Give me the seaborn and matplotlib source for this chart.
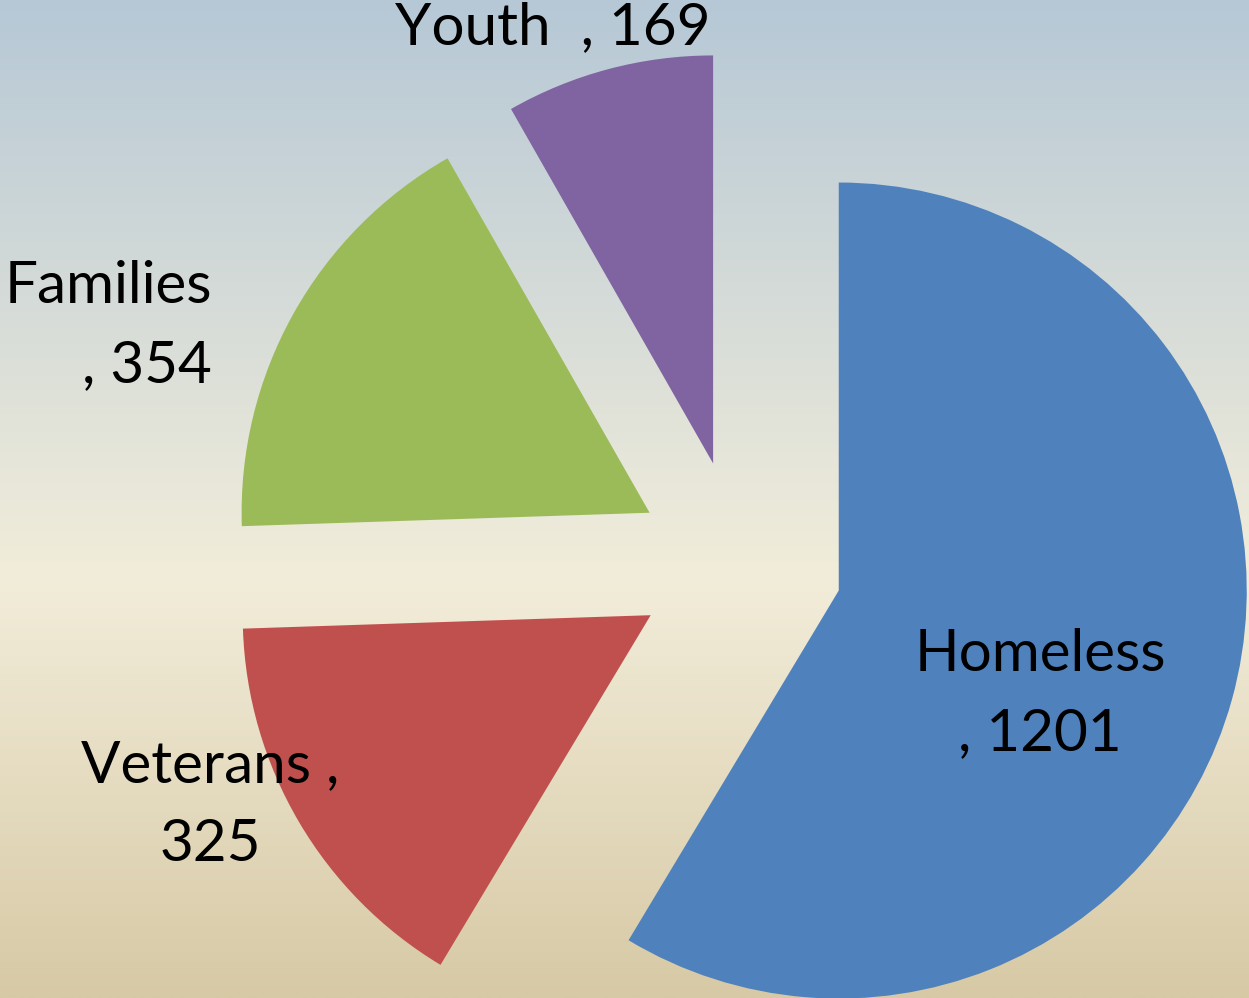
import numpy as np
import matplotlib
matplotlib.use("Agg")
import matplotlib.pyplot as plt
from matplotlib.colors import LinearSegmentedColormap
import seaborn as sns

# Client counts by programme
categories = ["Homeless", "Veterans", "Families", "Youth"]
values = [1201, 325, 354, 169]
separators = ["\n, ", " ,\n", "\n, ", "  , "]
colors = ["#4F81BD", "#C0504D", "#9BBB59", "#8064A2"]

sns.set_style("white")
plt.rcParams["font.family"] = ["Lato", "DejaVu Sans"]

W, H = 1249, 998
fig = plt.figure(figsize=(W / 100, H / 100), dpi=100)
ax = fig.add_axes([0, 0, 1, 1])

# Vertical background gradient: slate blue -> cream -> sand
bg = LinearSegmentedColormap.from_list(
    "bg",
    [(0.0, (182 / 255, 200 / 255, 214 / 255)),
     (0.58, (242 / 255, 237 / 255, 218 / 255)),
     (1.0, (215 / 255, 201 / 255, 165 / 255))],
)
grad = np.linspace(0, 1, 512).reshape(-1, 1)
ax.imshow(grad, cmap=bg, extent=(0, W, H, 0), aspect="auto", zorder=0)

# Exploded pie; y axis is inverted, so counterclockwise in data space
# reads clockwise on screen, starting from 12 o'clock.
ax.pie(
    values,
    colors=colors,
    startangle=-90,
    counterclock=True,
    radius=408,
    center=(739.5, 563),
    explode=[103] * len(values),
    frame=True,
    wedgeprops=dict(linewidth=0, zorder=2),
)
ax.set_xlim(0, W)
ax.set_ylim(H, 0)
ax.set_aspect("equal")
ax.axis("off")

labels = [f"{c}{s}{v}" for c, s, v in zip(categories, separators, values)]
positions = [(1040, 694, "center"), (210, 805, "center"),
             (212, 326, "right"), (553, 28, "center")]
for text, (x, y, ha) in zip(labels, positions):
    ax.text(x, y, text, ha=ha, va="center", multialignment=ha,
            fontsize=42, linespacing=1.6, color="black", zorder=3)

fig.savefig("out.png", dpi=100)
